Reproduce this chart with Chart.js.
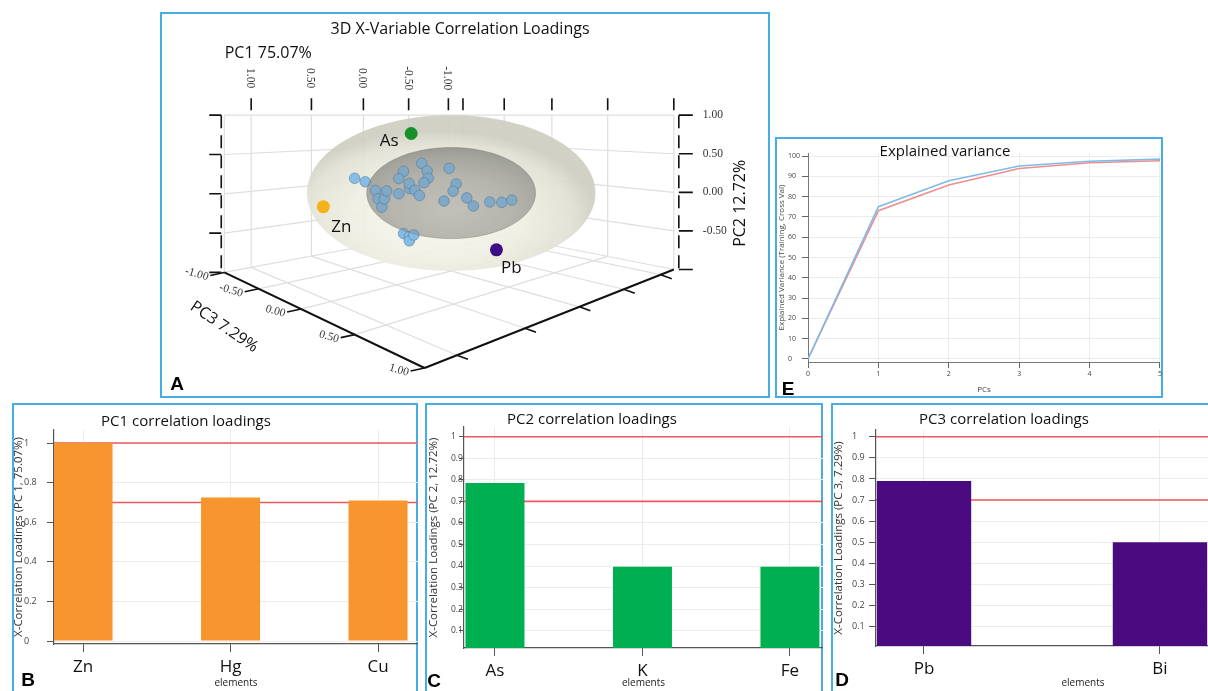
<!DOCTYPE html>
<html>
<head>
<meta charset="utf-8">
<script src="https://cdn.jsdelivr.net/npm/chart.js@4.4.1/dist/chart.umd.min.js"></script>
<style>
  body { margin:0; width:1208px; height:691px; overflow:hidden; position:relative; background:#fff;
         font-family:"Open Sans","Noto Sans",sans-serif; }
  .panel { position:absolute; border:2px solid #47aee3; box-sizing:border-box; }
  canvas { position:absolute; }
  .ttl { position:absolute; transform:translate(-50%,-50%); white-space:nowrap; color:#111; font-size:15px; line-height:20px; }
  .letter { position:absolute; transform:translate(-50%,-50%); font:bold 19px "Liberation Sans",Arial,sans-serif; color:#000; line-height:20px; }
</style>
</head>
<body>
<div class="panel" style="left:160px;top:12px;width:610px;height:386px"></div>
<div class="panel" style="left:775px;top:137px;width:388px;height:261px"></div>
<div class="panel" style="left:12px;top:403px;width:406px;height:300px"></div>
<div class="panel" style="left:425px;top:403px;width:398px;height:300px"></div>
<div class="panel" style="left:831px;top:403px;width:400px;height:300px"></div>

<canvas id="cA" width="606" height="382" style="left:162px;top:14px"></canvas>
<canvas id="cE" width="387" height="258" style="left:777px;top:139px"></canvas>
<canvas id="cB" width="404" height="286" style="left:14px;top:405px"></canvas>
<canvas id="cC" width="396" height="286" style="left:427px;top:405px"></canvas>
<canvas id="cD" width="457" height="286" style="left:833px;top:405px"></canvas>

<div class="ttl" style="left:945px;top:150px">Explained variance</div>
<div class="ttl" style="left:186px;top:420px">PC1 correlation loadings</div>
<div class="ttl" style="left:592px;top:418px">PC2 correlation loadings</div>
<div class="ttl" style="left:1004px;top:418px">PC3 correlation loadings</div>

<div class="letter" style="left:177px;top:384px">A</div>
<div class="letter" style="left:28px;top:680px">B</div>
<div class="letter" style="left:434px;top:681px">C</div>
<div class="letter" style="left:842px;top:680px">D</div>
<div class="letter" style="left:788px;top:389px">E</div>

<script>
// ---------------- data ----------------
// 3D correlation loadings: labelled elements
const HIGHLIGHT_NAMES = ['As', 'Zn', 'Pb'];
const HIGHLIGHT_PC1 = [0.50, 1.00, 0.47];
const HIGHLIGHT_PC2 = [0.79, 0.00, -0.34];
const HIGHLIGHT_PC3 = [0.14, -0.08, 0.79];

// 3D correlation loadings: remaining variables
const OTHER_PC1 = [0.83, 0.75, 0.67, 0.65, 0.62, 0.60, 0.58, 0.48, 0.44, 0.48, 0.39, 0.39, 0.34, 0.30, 0.28, 0.23,
                   0.22, 0.26, 0.02, -0.05, -0.02, 0.07, -0.16, -0.23, -0.41, -0.55, -0.67, 0.44, 0.39, 0.39, 0.35];
const OTHER_PC2 = [0.30, 0.25, 0.14, 0.04, -0.06, 0.03, 0.12, 0.07, 0.33, 0.25, 0.12, 0.18, 0.09, 0.02, 0.41, 0.31,
                   0.22, 0.17, 0.32, 0.11, 0.02, -0.09, -0.09, -0.21, -0.19, -0.22, -0.21, -0.41, -0.46, -0.51, -0.45];
const OTHER_PC3 = [0.00, 0.00, 0.00, 0.00, 0.00, 0.00, 0.00, 0.00, 0.00, 0.00, 0.00, 0.00, 0.00, 0.00, 0.00, 0.00,
                   0.00, 0.00, 0.00, 0.00, 0.00, 0.00, 0.00, 0.00, 0.00, 0.00, 0.00, 0.00, 0.00, 0.00, 0.00];

// correlation ellipsoids (outer = 100 %, inner)
const ELLIPSOID_RADII = [1.0, 0.585];

// 3D axis ticks
const PC1_TICKS = [1, 0.5, 0, -0.5, -1];
const PC2_TICKS = [-1, -0.5, 0, 0.5, 1];
const PC2_LABELLED = [-0.5, 0, 0.5, 1];
const PC3_TICKS = [-1, -0.5, 0, 0.5, 1];

// explained variance
const PCS = [0, 1, 2, 3, 4, 5];
const TRAINING = [0, 75.07, 87.79, 95.08, 97.4, 98.5];
const VALIDATION = [0, 73.1, 85.7, 93.9, 96.7, 97.7];
const E_Y_TICKS = [0, 10, 20, 30, 40, 50, 60, 70, 80, 90, 100];

// per-component loadings bars
const PC1_ELEMENTS = ['Zn', 'Hg', 'Cu'];
const PC1_LOADINGS = [1.0, 0.725, 0.71];
const PC2_ELEMENTS = ['As', 'K', 'Fe'];
const PC2_LOADINGS = [0.785, 0.397, 0.397];
const PC3_ELEMENTS = ['Pb', 'Bi'];
const PC3_LOADINGS = [0.79, 0.50];
const THRESHOLDS = [1.0, 0.7];
const B_Y_TICKS = [0, 0.2, 0.4, 0.6, 0.8, 1];
const CD_Y_TICKS = [0.1, 0.2, 0.3, 0.4, 0.5, 0.6, 0.7, 0.8, 0.9, 1];

// ---------------- shared ----------------
const FONT = '"Open Sans","Noto Sans",sans-serif';
const SERIF = '"Liberation Serif","DejaVu Serif",serif';

// ---------------- 3D view ----------------
const PC1_SPAN = 1.2;           // PC1 box runs from -1.2 to 1.2
const CAM = { pos: [2.42, 1.0, 2.80], yawDeg: 43.6, fx: 597, fy: 297, cx: 347, cy: 98 };
const YAW = CAM.yawDeg * Math.PI / 180;
const FWD = [-Math.cos(YAW), 0, -Math.sin(YAW)];
const RIGHT = [-Math.sin(YAW), 0, Math.cos(YAW)];

function project(pc1, pc2, pc3) {
  const dx = pc1 / PC1_SPAN - CAM.pos[0], dy = pc2 - CAM.pos[1], dz = pc3 - CAM.pos[2];
  const depth = dx * FWD[0] + dz * FWD[2];
  const lat = dx * RIGHT[0] + dz * RIGHT[2];
  return { x: CAM.cx + CAM.fx * lat / depth, y: CAM.cy - CAM.fy * dy / depth };
}
function toPx(chart, p) {
  return { x: chart.scales.x.getPixelForValue(p.x), y: chart.scales.y.getPixelForValue(p.y) };
}
function outline(chart, R) {
  const s = R / Math.hypot(RIGHT[0] * PC1_SPAN, RIGHT[2]);
  const pts = [];
  for (let k = 0; k <= 120; k++) {
    const t = 2 * Math.PI * k / 120;
    pts.push(toPx(chart, project(PC1_SPAN * s * Math.cos(t) * RIGHT[0], R * Math.sin(t), s * Math.cos(t) * RIGHT[2])));
  }
  return pts;
}
function tracePath(ctx, pts) {
  ctx.beginPath();
  pts.forEach((p, i) => i ? ctx.lineTo(p.x, p.y) : ctx.moveTo(p.x, p.y));
  ctx.closePath();
}
function fillEllipsoid(ctx, chart, pts, stops, cx0, cy0, rad, alpha) {
  const c = toPx(chart, project(0, 0, 0));
  const xs = pts.map(p => p.x), ys = pts.map(p => p.y);
  const hw = (Math.max(...xs) - Math.min(...xs)) / 2, hh = (Math.max(...ys) - Math.min(...ys)) / 2;
  tracePath(ctx, pts);
  ctx.save();
  ctx.translate(c.x, c.y); ctx.scale(hw, hh);
  const g = ctx.createRadialGradient(cx0, cy0, 0, cx0, cy0, rad);
  stops.forEach(([o, col]) => g.addColorStop(o, col));
  ctx.fillStyle = g; ctx.globalAlpha = alpha;
  ctx.fill();
  ctx.restore();
}
const fmt2 = v => v.toFixed(2);

const loadingsBox = {
  id: 'loadingsBox',
  beforeDatasetsDraw(chart) {
    const ctx = chart.ctx;
    const P = (a, b, c) => toPx(chart, project(a, b, c));
    const seg = (a, b) => { const p = P(...a), q = P(...b); ctx.moveTo(p.x, p.y); ctx.lineTo(q.x, q.y); };
    const x0 = -PC1_SPAN, x1 = PC1_SPAN;
    ctx.save();

    // back walls and floor grid
    ctx.strokeStyle = '#dedede'; ctx.lineWidth = 1.2; ctx.beginPath();
    PC1_TICKS.concat([x0, x1]).forEach(v => { seg([v, -1, -1], [v, 1, -1]); seg([v, -1, -1], [v, -1, 1]); });
    PC2_TICKS.forEach(h => { seg([x1, h, -1], [x0, h, -1]); seg([x0, h, -1], [x0, h, 1]); });
    PC3_TICKS.forEach(w => { seg([x0, -1, w], [x0, 1, w]); seg([x1, -1, w], [x0, -1, w]); });
    ctx.stroke();

    // ellipsoids
    const outer = outline(chart, ELLIPSOID_RADII[0]);
    fillEllipsoid(ctx, chart, outer,
      [[0, '#f9f9ef'], [0.55, '#eeeee2'], [0.85, '#e0e0d3'], [1, '#cdcdc0']], -0.1, 0.3, 1.1, 0.9);
    const inner = outline(chart, ELLIPSOID_RADII[1]);
    fillEllipsoid(ctx, chart, inner,
      [[0, '#dcdcd5'], [0.5, '#cdcdc6'], [0.85, '#b6b6b0'], [1, '#a4a49f']], 0.0, 0.35, 1.4, 1);

    // front floor axes
    ctx.strokeStyle = '#111'; ctx.lineWidth = 2; ctx.setLineDash([]);
    ctx.beginPath(); seg([x1, -1, -1], [x1, -1, 1]); seg([x1, -1, 1], [x0, -1, 1]); ctx.stroke();

    ctx.lineWidth = 1.6; ctx.beginPath();
    PC3_TICKS.forEach(w => { const p = P(x1, -1, w); ctx.moveTo(p.x, p.y); ctx.lineTo(p.x - 14, p.y + 3); });
    PC1_TICKS.forEach(v => { const p = P(v, -1, 1); ctx.moveTo(p.x, p.y); ctx.lineTo(p.x + 11, p.y + 4); });
    // top edge ticks
    PC1_TICKS.forEach(v => { const p = P(v, 1, -1); ctx.moveTo(p.x, p.y - 5); ctx.lineTo(p.x, p.y - 17); });
    PC3_TICKS.forEach(w => { const p = P(x0, 1, w); ctx.moveTo(p.x, p.y - 5); ctx.lineTo(p.x, p.y - 17); });
    ctx.stroke();

    // vertical PC2 axes (dashed) with ticks
    const Lt = P(x1, 1, -1), Lb = P(x1, -1, -1), Rt = P(x0, 1, 1), Rb = P(x0, -1, 1);
    ctx.setLineDash([13, 7]); ctx.lineWidth = 1.6;
    ctx.beginPath();
    ctx.moveTo(Lt.x - 3, Lt.y); ctx.lineTo(Lb.x - 3, Lb.y);
    ctx.moveTo(Rt.x + 5, Rt.y); ctx.lineTo(Rb.x + 5, Rb.y);
    ctx.stroke();
    ctx.setLineDash([]);
    ctx.beginPath();
    PC2_TICKS.forEach(h => {
      const l = P(x1, h, -1), r = P(x0, h, 1);
      ctx.moveTo(l.x - 3, l.y); ctx.lineTo(l.x - 15, l.y);
      ctx.moveTo(r.x + 5, r.y); ctx.lineTo(r.x + 19, r.y);
    });
    ctx.stroke();

    // tick labels
    ctx.fillStyle = '#333'; ctx.font = '11.5px ' + SERIF; ctx.textBaseline = 'middle';
    PC1_TICKS.forEach(v => {
      const p = P(v, 1, -1);
      ctx.save(); ctx.translate(p.x - 1, p.y - 37); ctx.rotate(Math.PI / 2);
      ctx.textAlign = 'center'; ctx.fillText(fmt2(v), 0, 0); ctx.restore();
    });
    PC2_LABELLED.forEach(h => {
      const r = P(x0, h, 1);
      ctx.textAlign = 'left'; ctx.fillText(fmt2(h), r.x + 29, r.y);
    });
    PC3_TICKS.forEach(w => {
      const p = P(x1, -1, w);
      ctx.save(); ctx.translate(p.x - 16, p.y + 5); ctx.rotate(0.28);
      ctx.textAlign = 'right'; ctx.fillText(fmt2(w), 0, 0); ctx.restore();
    });

    // titles
    ctx.fillStyle = '#111'; ctx.font = '16px ' + FONT; ctx.textAlign = 'center';
    ctx.fillText('3D X-Variable Correlation Loadings', 298, 15);
    const a1 = P(x1, 1, -1);
    ctx.fillText('PC1 75.07%', a1.x + 44, a1.y - 62);
    const a2 = P(x0, 0, 1);
    ctx.save(); ctx.translate(a2.x + 67, a2.y + 11); ctx.rotate(-Math.PI / 2);
    ctx.fillText('PC2 12.72%', 0, 0); ctx.restore();
    const a3 = P(x1, -1, 0);
    ctx.save(); ctx.translate(a3.x - 77, a3.y + 18); ctx.rotate(0.6);
    ctx.fillText('PC3 7.29%', 0, 0); ctx.restore();
    ctx.restore();
  },
  afterDatasetDraw(chart, args) {
    if (args.index !== 1) return;
    const ctx = chart.ctx;
    // inner ellipsoid shell seen over the variables inside it
    ctx.save();
    tracePath(ctx, outline(chart, ELLIPSOID_RADII[1]));
    ctx.fillStyle = 'rgba(108,108,102,0.24)'; ctx.fill();
    ctx.strokeStyle = 'rgba(120,120,112,0.4)'; ctx.lineWidth = 1; ctx.stroke();
    ctx.restore();
  },
  afterDatasetsDraw(chart, args, opts) {
    const ctx = chart.ctx;
    const meta = chart.getDatasetMeta(0);
    ctx.save();
    ctx.fillStyle = '#111'; ctx.font = '17px ' + FONT; ctx.textAlign = 'center'; ctx.textBaseline = 'middle';
    HIGHLIGHT_NAMES.forEach((n, i) => {
      const el = meta.data[i]; const o = opts.offsets[i];
      ctx.fillText(n, el.x + o[0], el.y + o[1]);
    });
    ctx.restore();
  }
};

new Chart(document.getElementById('cA'), {
  type: 'scatter',
  data: {
    datasets: [
      {
        data: HIGHLIGHT_NAMES.map((_, i) => project(HIGHLIGHT_PC1[i], HIGHLIGHT_PC2[i], HIGHLIGHT_PC3[i])),
        backgroundColor: ['#17902a', '#f6b21b', '#3e0e86'],
        borderWidth: 0, pointRadius: 6.5
      },
      {
        data: OTHER_PC1.map((_, i) => project(OTHER_PC1[i], OTHER_PC2[i], OTHER_PC3[i])),
        backgroundColor: '#86bde6', borderColor: 'rgba(78,118,158,0.55)', borderWidth: 1, pointRadius: 5.3
      }
    ]
  },
  options: {
    responsive: false, animation: false, devicePixelRatio: 1, events: [],
    layout: { padding: 0 },
    scales: {
      x: { type: 'linear', display: false, min: 0, max: 606 },
      y: { type: 'linear', display: false, min: 0, max: 382, reverse: true }
    },
    plugins: {
      legend: { display: false }, tooltip: { enabled: false },
      loadingsBox: { offsets: [[-22, 8], [18, 20], [15, 18]] }
    }
  },
  plugins: [loadingsBox]
});

// ---------------- explained variance ----------------
new Chart(document.getElementById('cE'), {
  type: 'line',
  data: {
    datasets: [
      { label: 'Training', data: PCS.map((p, i) => ({ x: p, y: TRAINING[i] })),
        borderColor: '#7fbbe8', borderWidth: 1.6, pointRadius: 0, tension: 0 },
      { label: 'Validation', data: PCS.map((p, i) => ({ x: p, y: VALIDATION[i] })),
        borderColor: '#ef8e8e', borderWidth: 1.6, pointRadius: 0, tension: 0 }
    ]
  },
  options: {
    responsive: false, animation: false, devicePixelRatio: 1, events: [],
    layout: { padding: { left: 11, top: 14, right: 0, bottom: 0 } },
    plugins: { legend: { display: false }, tooltip: { enabled: false } },
    scales: {
      x: {
        type: 'linear', min: 0, max: 5,
        afterBuildTicks: s => { s.ticks = PCS.map(v => ({ value: v })); },
        ticks: { font: { size: 7, family: FONT }, color: '#444', padding: 2, maxRotation: 0 },
        grid: { color: '#ececec', tickColor: '#666', tickLength: 6 },
        border: { color: '#777', width: 1 },
        title: { display: true, text: 'PCs', font: { size: 8, family: FONT }, color: '#444', padding: { top: 0, bottom: 2 } },
        afterFit: s => { s.height = 35; }
      },
      y: {
        type: 'linear', min: -1.48, max: 101.5,
        afterBuildTicks: s => { s.ticks = E_Y_TICKS.map(v => ({ value: v })); },
        ticks: { font: { size: 7, family: FONT }, color: '#444', crossAlign: 'far' },
        grid: { color: '#ececec', tickColor: '#666', tickLength: 6 },
        border: { color: '#777', width: 1 },
        title: { display: true, text: 'Explained Variance (Training, Cross Val)', font: { size: 8, family: FONT },
                 color: '#444', padding: { top: -10.8, bottom: 0 } },
        afterFit: s => { s.width = 20; }
      }
    }
  }
});

// ---------------- loadings bar panels ----------------
function loadingsBars(id, elements, loadings, color, yTitle, yTicks, g) {
  const bars = elements.map((_, i) => ({ x: i, y: loadings[i] }));
  const lines = THRESHOLDS.map(t => ({
    type: 'line', data: [{ x: g.xMin, y: t }, { x: g.xMax, y: t }],
    borderColor: '#e8585c', borderWidth: 1.6, pointRadius: 0, order: 2
  }));
  new Chart(document.getElementById(id), {
    type: 'bar',
    data: {
      datasets: [{ type: 'bar', data: bars, backgroundColor: color, borderWidth: 0,
                   barPercentage: 0.4, categoryPercentage: 1, order: 1 }].concat(lines)
    },
    options: {
      responsive: false, animation: false, devicePixelRatio: 1, events: [],
      layout: { padding: { left: g.padLeft, top: g.padTop, right: 0, bottom: 0 } },
      plugins: { legend: { display: false }, tooltip: { enabled: false } },
      scales: {
        x: {
          type: 'linear', min: g.xMin, max: g.xMax, offset: false,
          afterBuildTicks: s => { s.ticks = elements.map((_, i) => ({ value: i })); },
          ticks: { callback: v => elements[v], font: { size: 17, family: FONT }, color: '#111', padding: 5, maxRotation: 0 },
          grid: { offset: false, color: '#ececec', tickColor: '#555', tickLength: 8 },
          border: { color: '#555', width: 1.2 },
          title: { display: true, text: 'elements', font: { size: 10, family: FONT }, color: '#222', padding: { top: 0, bottom: 2 } },
          afterFit: s => { s.height = g.xHeight; }
        },
        y: {
          type: 'linear', min: g.yMin, max: g.yMax,
          afterBuildTicks: s => { s.ticks = yTicks.map(v => ({ value: v })); },
          ticks: { callback: v => String(+v.toFixed(1)), font: { size: g.tickSize, family: FONT }, color: '#444', crossAlign: 'far' },
          grid: { color: '#ececec', tickColor: '#555', tickLength: g.tickLen },
          border: { color: '#555', width: 1.2 },
          title: { display: true, text: yTitle, font: { size: 11.5, family: FONT }, color: '#333',
                   padding: { top: g.titleShift, bottom: 0 } },
          afterFit: s => { s.width = g.yWidth; }
        }
      }
    }
  });
}

loadingsBars('cB', PC1_ELEMENTS, PC1_LOADINGS, '#f7962f', 'X-Correlation Loadings (PC 1, 75.07%)', B_Y_TICKS,
  { xMin: -0.197, xMax: 2.271, yMin: -0.015, yMax: 1.066, padLeft: 10, padTop: 25, yWidth: 30, xHeight: 47,
    titleShift: -12.5, tickSize: 9, tickLen: 7 });
loadingsBars('cC', PC2_ELEMENTS, PC2_LOADINGS, '#00b050', 'X-Correlation Loadings (PC 2, 12.72%)', CD_Y_TICKS,
  { xMin: -0.210, xMax: 2.224, yMin: 0.02, yMax: 1.045, padLeft: 24, padTop: 22, yWidth: 13, xHeight: 43,
    titleShift: -24, tickSize: 8.5, tickLen: 5 });
loadingsBars('cD', PC3_ELEMENTS, PC3_LOADINGS, '#4a0a80', 'X-Correlation Loadings (PC 3, 7.29%)', CD_Y_TICKS,
  { xMin: -0.2034, xMax: 1.551, yMin: 0.0085, yMax: 1.032, padLeft: 19, padTop: 25, yWidth: 24, xHeight: 45,
    titleShift: -19.8, tickSize: 9, tickLen: 7 });
</script>
</body>
</html>
